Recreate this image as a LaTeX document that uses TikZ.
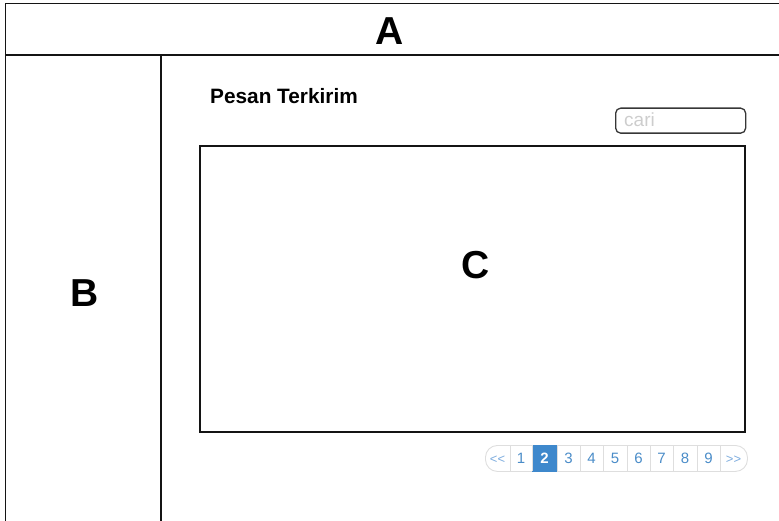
\documentclass[tikz,border=0pt]{standalone}
\usepackage{fontspec}
\setmainfont{Liberation Sans}
\definecolor{pgblue}{RGB}{62,136,204}
\definecolor{pgtext}{RGB}{74,140,200}
\definecolor{pglight}{RGB}{125,172,222}
\definecolor{pgborder}{RGB}{222,222,222}
\definecolor{frameline}{RGB}{20,20,20}
\definecolor{hint}{RGB}{205,205,205}
\begin{document}
\begin{tikzpicture}[x=1pt,y=-1pt,
  frame/.style={draw=frameline,line width=1.7pt},
  big/.style={font=\fontsize{39}{41}\selectfont\bfseries, inner sep=0pt},
  pg/.style={font=\fontsize{15}{17}\selectfont, text=pgtext, inner sep=0pt},
  pgarrow/.style={font=\fontsize{13}{14}\selectfont, text=pglight, inner sep=0pt},
  sep/.style={draw=pgborder, line width=0.8pt},
]
\useasboundingbox (0,0) rectangle (779,521);
% frame
\draw[frame] (5.5,521) -- (5.5,3.5) -- (779,3.5);
\draw[frame] (5.5,55) -- (779,55);
\draw[frame] (161,55) -- (161,521);
% region labels
\node[big] (A) at (390,31) {A};
\node[big] (B) at (85,293) {B};
\node[big] (Cl) at (476,265) {C};
% title
\node[anchor=base west, inner sep=0pt, font=\fontsize{20.8}{22}\selectfont\bfseries] (title) at (210,104) {Pesan Terkirim};
% search box
\node[draw=frameline!85, line width=1.3pt, rounded corners=5pt, minimum width=130pt, minimum height=25pt, anchor=north west, inner sep=0pt] (search) at (615,107.5) {};
\node[anchor=base west, inner sep=0pt, text=hint, font=\fontsize{19}{21}\selectfont] (cari) at (624,127) {cari};
% content box
\node[draw=frameline, line width=1.4pt, minimum width=545pt, minimum height=286pt, anchor=north west, inner sep=0pt, outer sep=0pt] (C) at (200,146) {};
% pagination
\node[draw=pgborder, line width=0.9pt, rounded corners=12pt, minimum width=262pt, minimum height=26pt, anchor=north west, inner sep=0pt] (pager) at (485,445) {};
\fill[pgblue] (532,444.5) rectangle (557,471.5);
\foreach \xx in {510,532,557,580,603,627,650,673,697,720}
  \draw[sep] (\xx,445) -- (\xx,471);
\node[pgarrow] (prev) at (497.5,459.5) {<{}<};
\node[pg] (p1) at (521,458) {1};
\node[pg, text=white, font=\fontsize{15}{17}\selectfont\bfseries] (p2) at (544.5,458) {2};
\node[pg] (p3) at (568.5,458) {3};
\node[pg] (p4) at (591.5,458) {4};
\node[pg] (p5) at (615,458) {5};
\node[pg] (p6) at (638.5,458) {6};
\node[pg] (p7) at (661.5,458) {7};
\node[pg] (p8) at (685,458) {8};
\node[pg] (p9) at (708.5,458) {9};
\node[pgarrow] (next) at (733.5,459.5) {>{}>};
\end{tikzpicture}
\end{document}
